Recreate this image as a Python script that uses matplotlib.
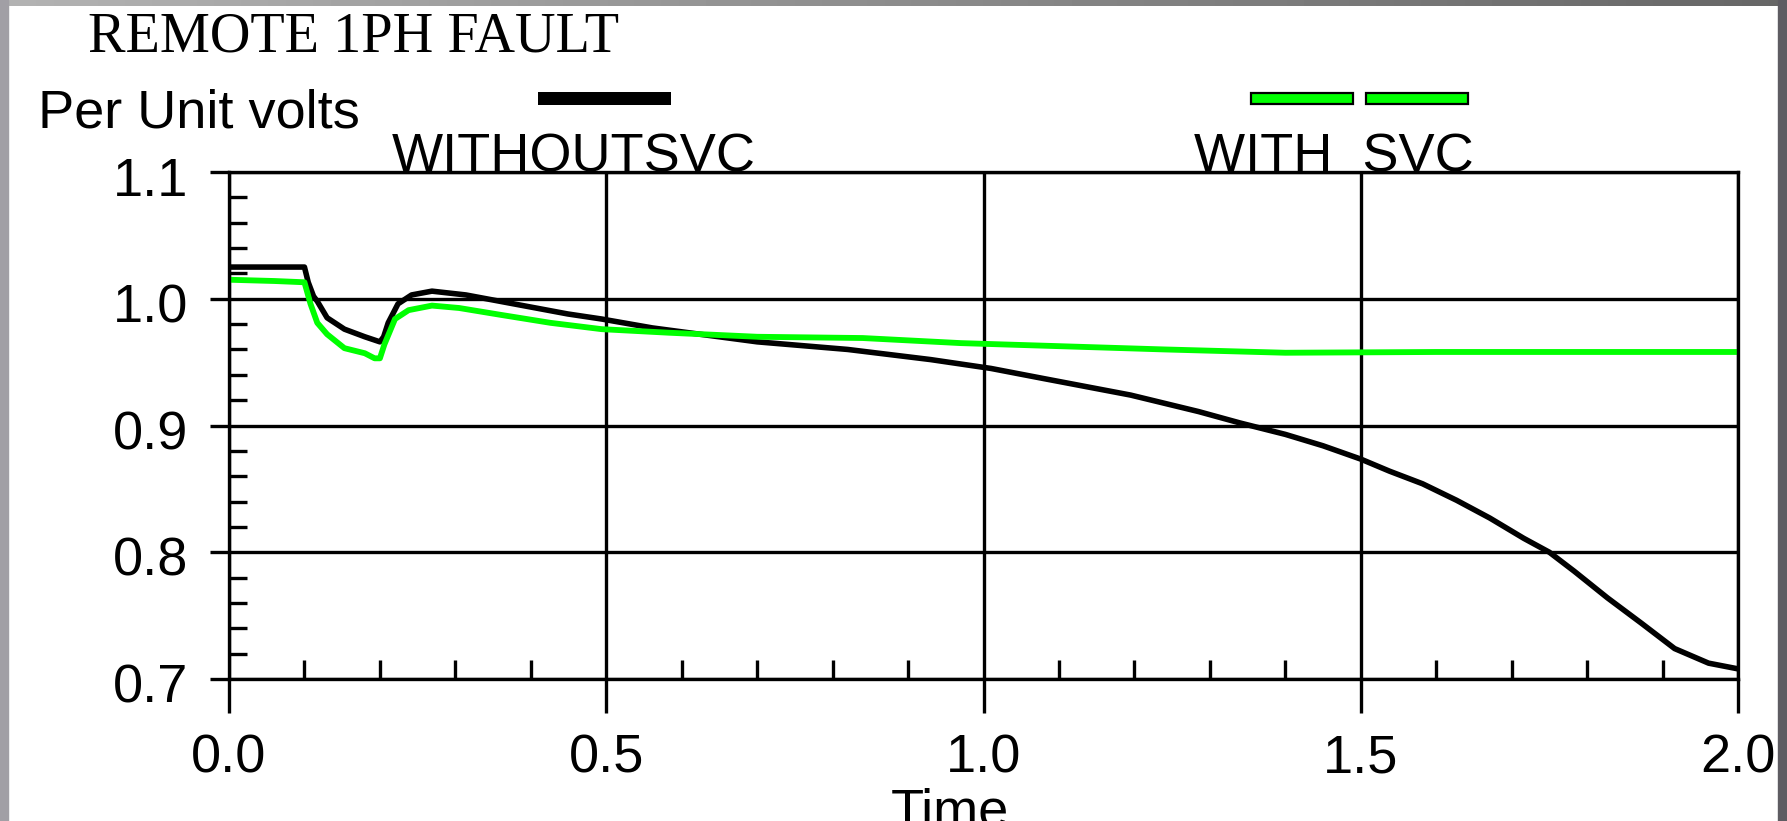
import numpy as np
import matplotlib
matplotlib.use("Agg")
import matplotlib.pyplot as plt
from matplotlib.patches import Rectangle
from matplotlib.ticker import MultipleLocator
from matplotlib.transforms import ScaledTranslation

# data
t_without = [0.0, 0.1, 0.105, 0.112, 0.117, 0.13, 0.153, 0.18, 0.2, 0.205, 0.211, 0.224, 0.242, 0.269,
             0.314, 0.359, 0.404, 0.449, 0.494, 0.561, 0.70, 0.82, 0.93, 1.01, 1.08, 1.195, 1.285,
             1.34, 1.40, 1.45, 1.50, 1.538, 1.582, 1.627, 1.671, 1.716, 1.75, 1.783, 1.827, 1.872,
             1.916, 1.961, 2.0]
v_without = [1.025, 1.025, 1.013, 1.002, 0.998, 0.985, 0.976, 0.970, 0.966, 0.970, 0.981, 0.996, 1.003, 1.006,
             1.003, 0.998, 0.993, 0.988, 0.984, 0.977, 0.966, 0.960, 0.952, 0.945, 0.937, 0.924, 0.911,
             0.902, 0.893, 0.884, 0.8735, 0.864, 0.854, 0.841, 0.827, 0.811, 0.800, 0.785, 0.764, 0.744,
             0.724, 0.7125, 0.708]

t_with = [0.0, 0.06, 0.1, 0.108, 0.117, 0.13, 0.153, 0.18, 0.193, 0.2, 0.206, 0.22, 0.238, 0.269, 0.305,
          0.359, 0.426, 0.494, 0.583, 0.70, 0.84, 0.97, 1.105, 1.24, 1.40, 1.6, 2.0]
v_with = [1.015, 1.014, 1.013, 0.996, 0.981, 0.972, 0.961, 0.957, 0.953, 0.953, 0.964, 0.984, 0.991, 0.9946, 0.9927,
          0.9874, 0.981, 0.976, 0.9732, 0.970, 0.969, 0.965, 0.9625, 0.960, 0.9574, 0.958, 0.958]

x_ticks = [0.0, 0.5, 1.0, 1.5, 2.0]
x_labels = ["0.0", "0.5", "1.0", "1.5", "2.0"]
y_ticks = [0.7, 0.8, 0.9, 1.0, 1.1]
y_labels = ["0.7", "0.8", "0.9", "1.0", "1.1"]

W, H = 1787, 821
GREEN = "#00ff00"
SANS = "Liberation Sans"

def fx(px):
    return px / W

def fy(py):
    return 1 - py / H

fig = plt.figure(figsize=(W / 100, H / 100), dpi=100)
fig.patch.set_facecolor("white")

# grey window border
top = fig.add_axes([0, fy(6), 1, 6 / H])
top.imshow(np.linspace(0.70, 0.40, 200)[None, :], aspect="auto", cmap="gray", vmin=0, vmax=1)
top.axis("off")
fig.patches.append(Rectangle((0, 0), fx(8), 1, transform=fig.transFigure, color="#a19fa5", zorder=0))
fig.patches.append(Rectangle((fx(1778), 0), 1, 1, transform=fig.transFigure, color="#5e5c62", zorder=0))

ax = fig.add_axes([fx(229), fy(679), fx(1509), 507 / H])
ax.plot(t_without, v_without, color="black", lw=4.0)
ax.plot(t_with, v_with, color=GREEN, lw=4.2)

ax.set_xlim(0, 2)
ax.set_ylim(0.7, 1.1)
ax.set_xticks(x_ticks)
ax.set_xticklabels(x_labels)
ax.set_yticks(y_ticks)
ax.set_yticklabels(y_labels)
ax.xaxis.set_minor_locator(MultipleLocator(0.1))
ax.yaxis.set_minor_locator(MultipleLocator(0.02))

ax.tick_params(axis="x", which="major", direction="out", length=24.5, width=2.4, pad=15,
               labelsize=39, labelfontfamily=SANS)
ax.tick_params(axis="x", which="minor", direction="in", length=14, width=2.4)
ax.tick_params(axis="y", which="major", direction="out", length=14, width=2.4, pad=15,
               labelsize=39, labelfontfamily=SANS)
ax.tick_params(axis="y", which="minor", direction="in", length=13, width=2.4)
for lab in ax.get_yticklabels():
    lab.set_transform(lab.get_transform() + ScaledTranslation(0, -4 / 100, fig.dpi_scale_trans))

ax.grid(True, which="major", color="black", lw=2.4)
for s in ax.spines.values():
    s.set_linewidth(2.4)

ax.set_xlabel("Time", fontsize=39, family=SANS, va="top")
ax.xaxis.set_label_coords((950 - 229) / 1509, (679 - 787) / 507)
ax.set_ylabel("Per Unit volts", fontsize=39, family=SANS, rotation=0, ha="left", va="baseline")
ax.yaxis.set_label_coords((38 - 229) / 1509, (679 - 127) / 507)

fig.text(fx(88), fy(52), "REMOTE 1PH FAULT", fontsize=40.5, family="Liberation Serif", va="baseline")

# legend, drawn the way the plotting program does it
fig.patches.append(Rectangle((fx(538), fy(105)), fx(671 - 538), 13 / H, transform=fig.transFigure,
                             facecolor="black", edgecolor="none"))
fig.text(fx(392), fy(171), "WITHOUTSVC", fontsize=39, family=SANS, va="baseline")
for x0, x1 in [(1251, 1353), (1366, 1468)]:
    fig.patches.append(Rectangle((fx(x0), fy(104)), fx(x1 - x0), 11 / H, transform=fig.transFigure,
                                 facecolor=GREEN, edgecolor="black", lw=1.6))
fig.text(fx(1194), fy(171), "WITH  SVC", fontsize=39, family=SANS, va="baseline")

fig.savefig("out.png", dpi=100)
